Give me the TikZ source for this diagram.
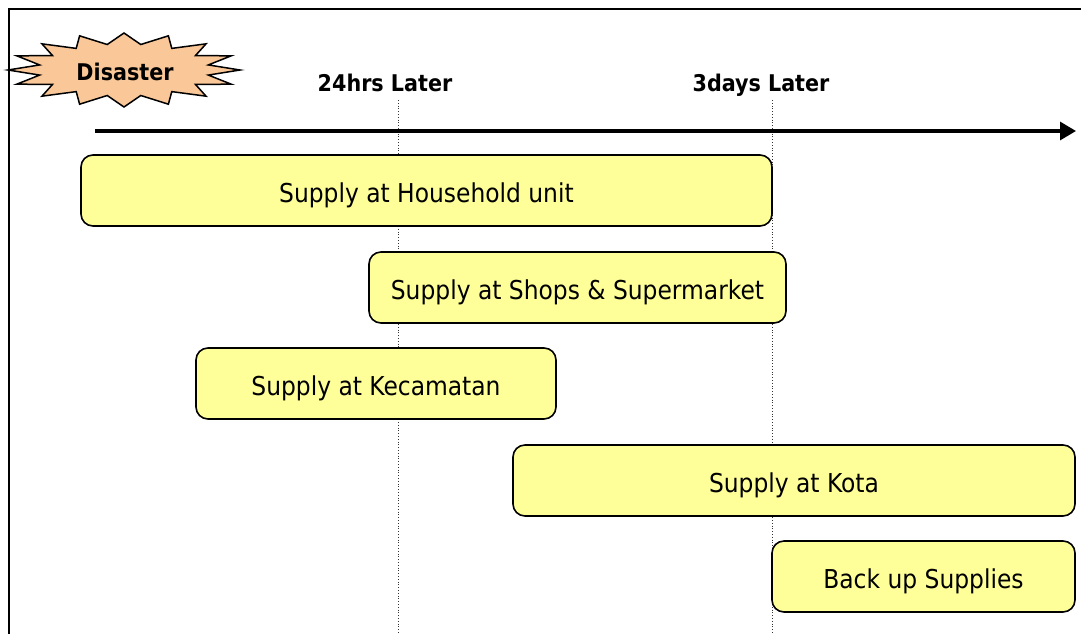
\documentclass[tikz,border=0pt]{standalone}
\usepackage{fontspec}
\setmainfont{DejaVu Sans Condensed}
\usetikzlibrary{arrows.meta}
\definecolor{boxfill}{HTML}{FFFF99}
\definecolor{starfill}{HTML}{FAC898}
\begin{document}
\begin{tikzpicture}[x=1pt,y=-1pt,
  phase/.style={draw=black, line width=1.6pt, fill=boxfill, rounded corners=12pt,
    minimum height=71pt, inner sep=0pt, text height=26pt, text depth=1.6pt,
    font=\fontsize{26}{30}\selectfont},
  timelabel/.style={font=\bfseries\fontsize{23}{27}\selectfont, inner sep=0pt, anchor=base},
  guide/.style={dotted, line width=0.8pt, black!80}]
\useasboundingbox (0,0) rectangle (1081,633);
\fill[white] (0,0) rectangle (1081,633);
% frame
\draw[line width=1.8pt] (9,640) -- (9,9) -- (1090,9);
% guides
\coordinate (g1t) at (398,100); \coordinate (g1b) at (398,633);
\coordinate (g2t) at (772,100); \coordinate (g2b) at (772,633);
\draw[guide] (g1t) -- (g1b);
\draw[guide] (g2t) -- (g2b);
% time labels
\node[timelabel] (l24) at (385,91) {24hrs Later};
\node[timelabel] (l3d) at (761,91) {3days Later};
% arrow
\coordinate (as) at (95,131); \coordinate (ae) at (1076,131);
\draw[line width=3.2pt, -{Triangle[length=16pt,width=18pt]}] (as) -- (ae);
% starburst
\filldraw[fill=starfill, draw=black, line width=1.5pt]
  plot[samples at={0,...,31}, variable=\k]
  ({124 + (mod(\k,2)==0 ? 116 : 86)*cos(\k*11.25+180)},
   {70 + (mod(\k,2)==0 ? 37 : 26)*sin(\k*11.25+180)}) -- cycle;
\node[timelabel] (dis) at (125,80) {Disaster};
% phases
\node[phase, minimum width=691pt] (hh) at (426.5,190.5) {Supply at Household unit};
\node[phase, minimum width=417pt] (sh) at (577.5,287.5) {Supply at Shops \& Supermarket};
\node[phase, minimum width=360pt] (ke) at (376,383.5) {Supply at Kecamatan};
\node[phase, minimum width=562pt] (ko) at (794,480.5) {Supply at Kota};
\node[phase, minimum width=303pt] (bu) at (923.5,576.5) {Back up Supplies};
\end{tikzpicture}
\end{document}
